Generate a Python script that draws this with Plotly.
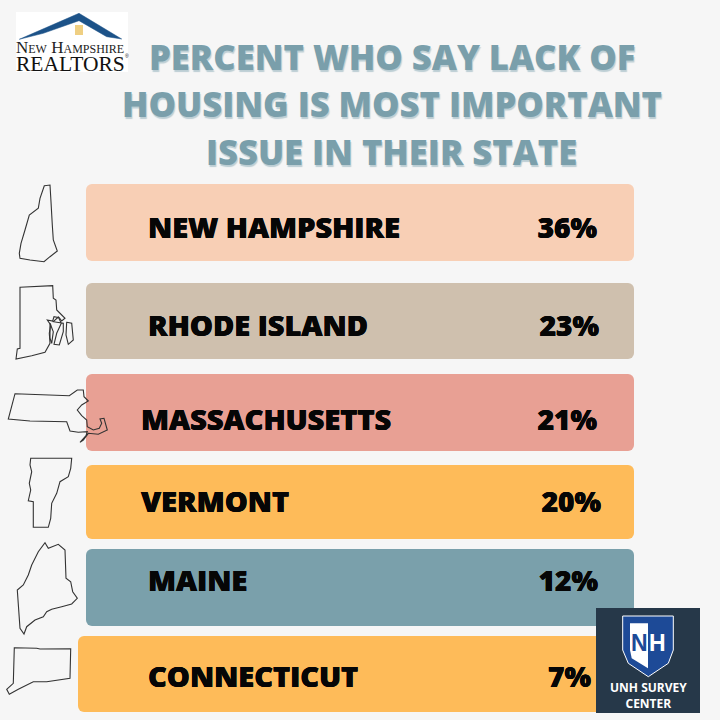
import plotly.graph_objects as go

# ---- data ----
states = ["NEW HAMPSHIRE", "RHODE ISLAND", "MASSACHUSETTS", "VERMONT", "MAINE", "CONNECTICUT"]
percent = [36, 23, 21, 20, 12, 7]
title_lines = ["PERCENT WHO SAY LACK OF", "HOUSING IS MOST IMPORTANT", "ISSUE IN THEIR STATE"]

# ---- card layout (pixels of the 720x720 canvas) ----
card_top = [184, 283, 374, 465, 549, 636]
card_bottom = [261, 359, 451, 539, 626, 712]
card_left = [86, 86, 86, 86, 86, 78]
card_right = [634, 634, 634, 634, 634, 620]
card_colors = ["#F8CFB5", "#CFC0AE", "#E8A094", "#FEBB59", "#7AA0AB", "#FEBB59"]
label_x = [148, 148, 141, 141, 148, 148]
label_y = [231, 329, 423, 505, 584, 680]
value_x = [597, 599, 597, 601, 598, 591]
value_y = [231, 329, 423, 505, 584, 680]

BG = "#F6F6F6"
HEAVY = "Open Sans"
INK = "#060606"
THICK = "0.3px 0 0 #060606, -0.3px 0 0 #060606"

fig = go.Figure()
fig.add_trace(go.Bar(
    orientation="h",
    y=[(t + b) / 2 for t, b in zip(card_top, card_bottom)],
    x=[r - l for l, r in zip(card_left, card_right)],
    base=card_left,
    width=[b - t for t, b in zip(card_top, card_bottom)],
    marker=dict(color=card_colors, cornerradius=6, line_width=0),
    hoverinfo="skip",
))
fig.add_trace(go.Scatter(
    x=label_x, y=label_y, text=states, mode="text", textposition="middle right",
    textfont=dict(family=HEAVY, size=29, color=INK, weight=800, shadow=THICK), hoverinfo="skip",
))
fig.add_trace(go.Scatter(
    x=value_x, y=value_y, text=[f"{v}%" for v in percent], mode="text", textposition="middle left",
    textfont=dict(family=HEAVY, size=28, color=INK, weight=800, shadow=THICK), hoverinfo="skip",
))


def outline(points, ox, oy, color="#333333", width=1.1, fill="rgba(0,0,0,0)", closed=True):
    """Illustration path given in 3x zoomed pixels relative to an origin."""
    pts = [(ox + x / 3, oy + y / 3) for x, y in points]
    d = "M " + " L ".join(f"{x:.1f},{y:.1f}" for x, y in pts) + (" Z" if closed else "")
    fig.add_shape(type="path", path=d, xref="x", yref="y",
                  line=dict(color=color, width=width), fillcolor=fill, layer="above")


# state outlines (decorative drawings)
outline([(133, 32), (150, 30), (153, 80), (157, 150), (160, 195), (172, 228), (150, 245), (132, 260),
         (90, 255), (60, 250), (58, 235), (63, 205), (75, 165), (88, 120), (115, 100), (120, 70)], 0, 175)
outline([(60, 337), (158, 332), (160, 370), (168, 375), (170, 405), (195, 430), (185, 438), (178, 428),
         (162, 425), (158, 438), (142, 435), (152, 450), (148, 475), (150, 505), (135, 532), (95, 542),
         (48, 552), (52, 522), (60, 520)], 0, 175)
outline([(160, 440), (175, 426), (184, 445), (170, 475), (162, 508), (178, 510), (190, 470), (190, 445)], 0, 175)
outline([(200, 442), (215, 445), (220, 495), (205, 508), (198, 480)], 0, 175)
outline([(150, 445), (160, 470), (155, 505), (150, 490)], 0, 175)
outline([(45, 656), (208, 662), (232, 645), (250, 645), (252, 665), (265, 678), (245, 690), (232, 705),
         (245, 722), (260, 735), (262, 755), (280, 765), (298, 760), (305, 745), (300, 732), (312, 730),
         (322, 765), (295, 778), (265, 775), (250, 795), (240, 802), (258, 782), (262, 770), (235, 772),
         (210, 768), (200, 740), (90, 738), (25, 732)], 0, 175)
outline([(92, 25), (215, 25), (212, 55), (205, 80), (180, 95), (170, 130), (155, 160), (152, 205),
         (145, 232), (100, 232), (100, 155), (85, 152), (92, 120), (88, 100), (95, 65), (90, 45)], 0, 450)
outline([(135, 278), (145, 295), (175, 283), (195, 300), (198, 385), (212, 395), (218, 425), (232, 445),
         (215, 462), (185, 470), (155, 478), (140, 485), (130, 500), (105, 510), (80, 530), (72, 552),
         (60, 535), (52, 420), (70, 405), (85, 375), (95, 345), (115, 305)], 0, 450)
outline([(43, 593), (110, 595), (120, 597), (212, 596), (210, 685), (140, 695), (100, 695), (55, 718),
         (28, 733), (20, 718), (40, 700)], 0, 450)

# New Hampshire Realtors logo
fig.add_shape(type="rect", x0=16, x1=128, y0=12, y1=72, fillcolor="#FFFFFF", line_width=0, layer="above")
outline([(28, 103), (207, 25), (335, 102), (290, 95), (207, 47), (100, 85)], 10, 5, color="#1C5288", width=0.5, fill="#1C5288")
fig.add_shape(type="rect", x0=75, x1=83, y0=25, y1=35, fillcolor="#EFCF82", line_width=0, layer="above")

# UNH Survey Center logo
fig.add_shape(type="rect", x0=596, x1=700, y0=608, y1=713, fillcolor="#263849", line_width=0, layer="above")
outline([(308, 168), (460, 168), (460, 270), (445, 310), (385, 350), (325, 310), (308, 270)], 520, 560,
        color="#FFFFFF", width=1, fill="#1D4A97")
outline([(330, 190), (384, 190), (384, 325), (335, 295), (330, 270)], 520, 560, color="#FFFFFF", width=0, fill="#FFFFFF")

annotations = []
for text, xc, yc in zip(title_lines, [392, 392, 391], [56, 103, 151]):
    annotations.append(dict(text=text, x=xc, y=yc, font=dict(family=HEAVY, size=34.6, color="#7A9FAB", weight=800,
                                                            shadow="1px 2px 1px #BCCED4")))
annotations += [
    dict(text="New Hampshire", x=70, y=47.5, font=dict(family="Liberation Serif", size=17, color="#222222", variant="small-caps")),
    dict(text="REALTORS", x=70.5, y=63.5, font=dict(family="Liberation Serif", size=21.5, color="#111111")),
    dict(text="®", x=126.5, y=56, font=dict(family="Liberation Sans", size=5, color="#111111")),
    dict(text="N", x=639, y=643, font=dict(family="Liberation Sans", size=23, color="#1D4A97", weight=700)),
    dict(text="H", x=657, y=643, font=dict(family="Liberation Sans", size=23, color="#FFFFFF", weight=700)),
    dict(text="UNH SURVEY<br>CENTER", x=648, y=695, font=dict(family="Open Sans", size=12, color="#FFFFFF", weight=700)),
]
for a in annotations:
    a.setdefault("xref", "x"); a.setdefault("yref", "y"); a.setdefault("showarrow", False)
    a.setdefault("xanchor", "center"); a.setdefault("yanchor", "middle")

fig.update_layout(
    width=720, height=720, margin=dict(l=0, r=0, t=0, b=0), autosize=False,
    paper_bgcolor=BG, plot_bgcolor=BG, showlegend=False, annotations=annotations,
    xaxis=dict(range=[0, 720], visible=False, fixedrange=True),
    yaxis=dict(range=[720, 0], visible=False, fixedrange=True),
)
fig.write_html("out.html", config=dict(displayModeBar=False),
               post_script="document.body.style.margin='0';document.documentElement.style.overflow='hidden';")
